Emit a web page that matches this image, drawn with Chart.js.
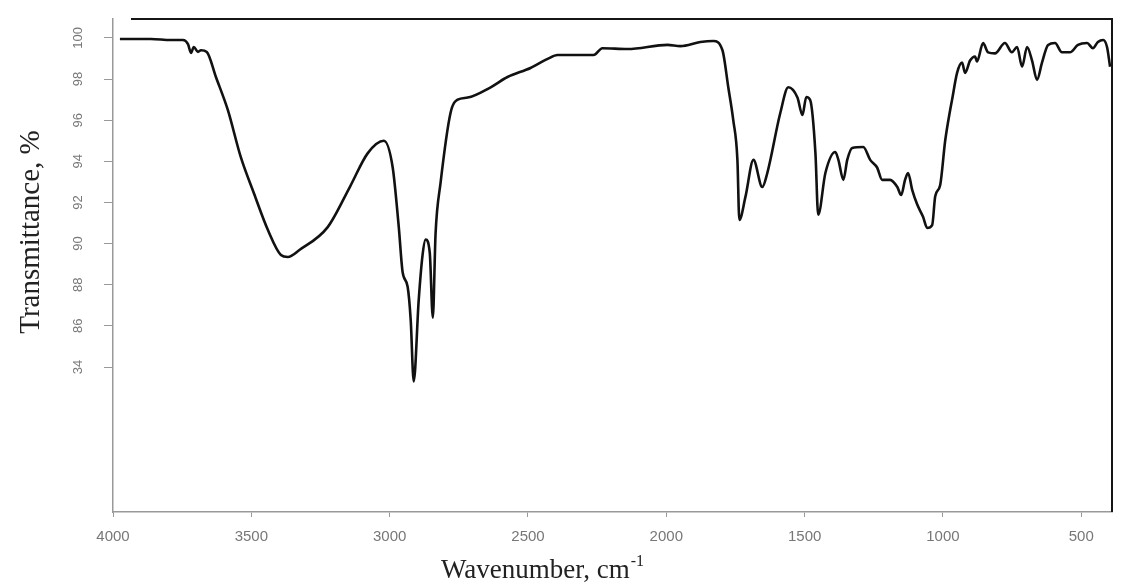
<!DOCTYPE html>
<html>
<head>
<meta charset="utf-8">
<title>IR spectrum</title>
<script src="https://cdn.jsdelivr.net/npm/chart.js@4.4.1/dist/chart.umd.min.js"></script>
<style>
  html, body { margin: 0; padding: 0; background: #fff; }
  #wrap { width: 1126px; height: 583px; position: relative; }
</style>
</head>
<body>
<div id="wrap"><canvas id="spectrum"></canvas></div>
<script>
// values
const wavenumber = [
  3975, 3863, 3791, 3747, 3729, 3718, 3708, 3693, 3682, 3661,
  3628, 3585, 3538, 3491, 3440, 3393, 3368, 3325, 3224, 3144,
  3079, 3021, 2989, 2967, 2953, 2935, 2924, 2913, 2895, 2881,
  2870, 2855, 2844, 2834, 2816, 2780, 2754, 2718, 2635, 2574,
  2491, 2429, 2393, 2263, 2231, 2140, 1996, 1949, 1877, 1830,
  1797, 1776, 1758, 1743, 1736, 1714, 1685, 1653, 1635, 1588,
  1559, 1526, 1508, 1494, 1480, 1461, 1451, 1425, 1389, 1378,
  1360, 1346, 1328, 1288, 1263, 1238, 1220, 1191, 1165, 1151,
  1137, 1126, 1111, 1093, 1072, 1057, 1039, 1028, 1010, 992,
  974, 967, 949, 931, 920, 902, 884, 877, 855, 837,
  812, 776, 751, 732, 714, 696, 678, 660, 642, 620,
  595, 570, 541, 512, 479, 458, 440, 421, 407, 396
];
const transmittance = [
  99.95, 99.95, 99.9, 99.9, 99.7, 99.27, 99.56, 99.32, 99.4, 99.32,
  98.1, 96.5, 94.2, 92.46, 90.66, 89.45, 89.35, 89.7, 90.8, 92.75,
  94.4, 95.0, 93.7, 90.8, 88.6, 87.9, 86.3, 83.3, 87.25, 89.45,
  90.2, 89.55, 86.4, 90.5, 92.95, 96.35, 97.0, 97.1, 97.6, 98.1,
  98.54, 98.98, 99.17, 99.17, 99.5, 99.46, 99.66, 99.6, 99.8, 99.85,
  99.4, 97.6, 96.0, 94.07, 91.15, 92.27, 94.07, 92.75, 93.43, 96.35,
  97.6, 97.1, 96.25, 97.13, 96.98, 94.4, 91.4, 93.43, 94.45, 94.07,
  93.1, 94.07, 94.65, 94.7, 94.07, 93.7, 93.1, 93.1, 92.75, 92.36,
  93.1, 93.43, 92.6, 91.9, 91.3, 90.76, 90.9, 92.3, 92.85, 95.0,
  96.5, 97.0, 98.3, 98.8, 98.3, 98.9, 99.1, 98.85, 99.75, 99.3,
  99.25, 99.75, 99.3, 99.56, 98.6, 99.56, 98.9, 97.96, 98.8, 99.66,
  99.75, 99.3, 99.3, 99.66, 99.75, 99.5, 99.8, 99.9, 99.56, 98.6
];
const xTicks = [4000, 3500, 3000, 2500, 2000, 1500, 1000, 500];
const yTicks = [84, 86, 88, 90, 92, 94, 96, 98, 100];
const yTickLabels = ['34', '86', '88', '90', '92', '94', '96', '98', '100'];

const serif = '"Liberation Serif", "Times New Roman", serif';
const sans = '"Liberation Sans", Arial, sans-serif';

// top/right frame, rotated y tick labels and the two axis titles
const framePlugin = {
  id: 'framePlugin',
  afterDraw(chart) {
    const { ctx, chartArea } = chart;
    const yScale = chart.scales.y;
    ctx.save();

    ctx.strokeStyle = '#151515';
    ctx.lineWidth = 2;
    ctx.beginPath();
    ctx.moveTo(chartArea.left + 18, chartArea.top);
    ctx.lineTo(chartArea.right, chartArea.top);
    ctx.lineTo(chartArea.right, chartArea.bottom);
    ctx.stroke();

    ctx.fillStyle = '#777';
    ctx.font = '13px ' + sans;
    ctx.textAlign = 'center';
    ctx.textBaseline = 'middle';
    yTicks.forEach((v, i) => {
      ctx.save();
      ctx.translate(chartArea.left - 35, yScale.getPixelForValue(v));
      ctx.rotate(-Math.PI / 2);
      ctx.fillText(yTickLabels[i], 0, 0);
      ctx.restore();
    });

    ctx.fillStyle = '#222';
    ctx.save();
    ctx.translate(31, 232);
    ctx.rotate(-Math.PI / 2);
    ctx.font = '29px ' + serif;
    ctx.fillText('Transmittance, %', 0, 0);
    ctx.restore();

    // Wavenumber, cm-1 with superscript
    ctx.textAlign = 'left';
    ctx.textBaseline = 'alphabetic';
    ctx.font = '27px ' + serif;
    const main = 'Wavenumber, cm';
    const wMain = ctx.measureText(main).width;
    ctx.font = '16px ' + serif;
    const wSup = ctx.measureText('-1').width;
    const x0 = 542 - (wMain + wSup) / 2;
    ctx.font = '27px ' + serif;
    ctx.fillText(main, x0, 578);
    ctx.font = '16px ' + serif;
    ctx.fillText('-1', x0 + wMain + 1, 566);

    ctx.restore();
  }
};

new Chart(document.getElementById('spectrum'), {
  type: 'line',
  data: {
    datasets: [{
      label: 'Transmittance',
      data: wavenumber.map((w, i) => ({ x: w, y: transmittance[i] })),
      borderColor: '#111',
      borderWidth: 2.6,
      pointRadius: 0,
      cubicInterpolationMode: 'monotone',
      fill: false
    }]
  },
  options: {
    responsive: true,
    maintainAspectRatio: false,
    animation: false,
    devicePixelRatio: 1,
    layout: { padding: { top: 19, right: 14, left: 0, bottom: 0 } },
    plugins: {
      legend: { display: false },
      tooltip: { enabled: false }
    },
    scales: {
      x: {
        type: 'linear',
        reverse: true,
        min: 389,
        max: 4000,
        afterBuildTicks: scale => { scale.ticks = xTicks.map(v => ({ value: v })); },
        afterFit: scale => { scale.height = 71; },
        ticks: {
          color: '#777',
          font: { family: sans, size: 15 },
          padding: 11,
          maxRotation: 0,
          minRotation: 0,
          callback: value => String(value)
        },
        grid: { drawOnChartArea: false, tickLength: 5, color: '#999', lineWidth: 1 },
        border: { color: '#999', width: 1.5 }
      },
      y: {
        min: 76.95,
        max: 100.92,
        afterBuildTicks: scale => { scale.ticks = yTicks.map(v => ({ value: v })); },
        afterFit: scale => { scale.width = 113; },
        ticks: { display: false },
        grid: { drawOnChartArea: false, tickLength: 9, color: '#999', lineWidth: 1 },
        border: { color: '#999', width: 1.5 }
      }
    }
  },
  plugins: [framePlugin]
});
</script>
</body>
</html>
